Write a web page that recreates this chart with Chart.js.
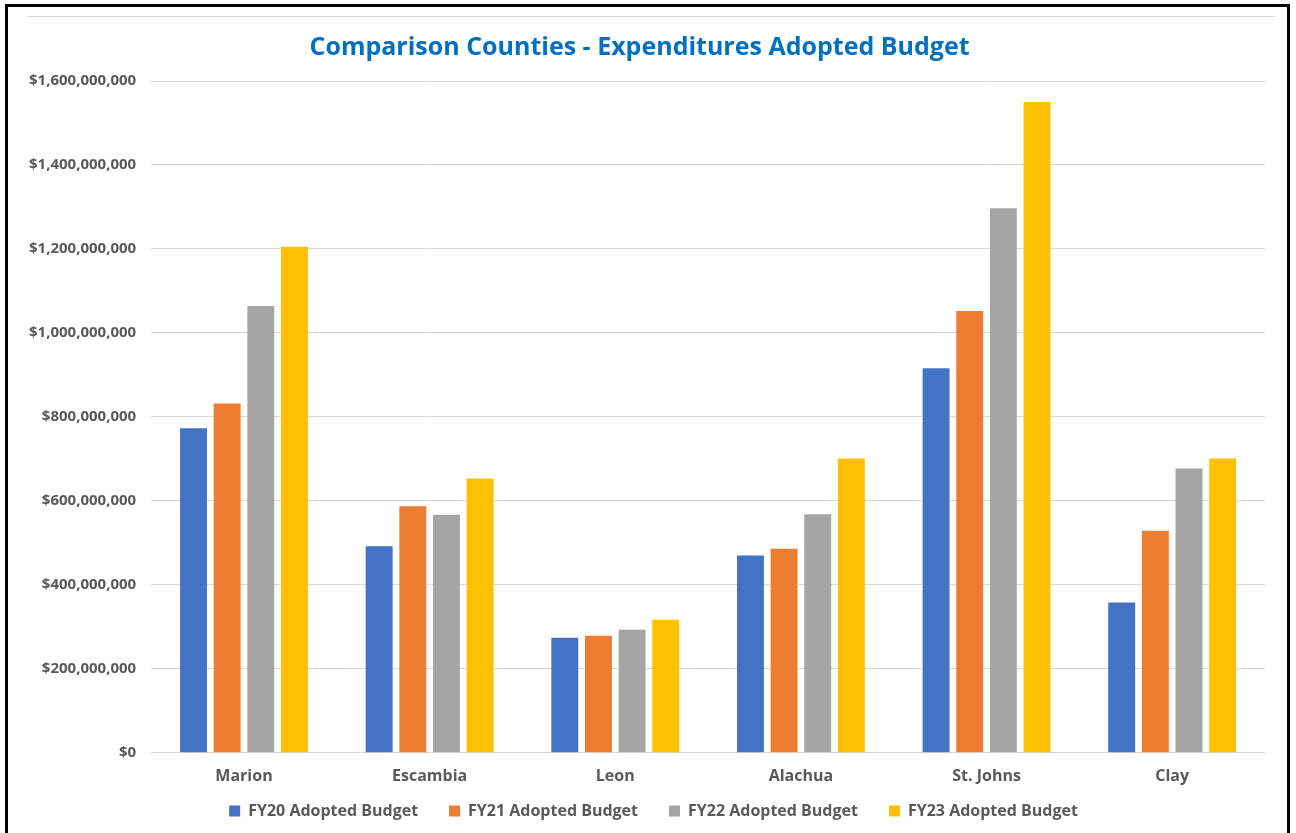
<!DOCTYPE html>
<html>
<head>
<meta charset="utf-8">
<script src="https://cdn.jsdelivr.net/npm/chart.js@4"></script>
<style>
  html, body { margin: 0; padding: 0; background: #fff; overflow: hidden; }
  #frame {
    position: absolute; left: 5px; top: 4px; width: 1285px; height: 840px;
    border: 3px solid #000; box-sizing: border-box;
  }
  #topline {
    position: absolute; left: 27px; top: 16px; width: 1248px; height: 0;
    border-top: 1px solid #d9d9d9;
  }
  #wrap { position: absolute; left: 0; top: 0; width: 1296px; height: 833px; }
</style>
</head>
<body>
<div id="frame"></div>
<div id="topline"></div>
<div id="wrap"><canvas id="barChart"></canvas></div>
<script>
// counties and adopted budget values (dollars)
const counties = ['Marion', 'Escambia', 'Leon', 'Alachua', 'St. Johns', 'Clay'];
const fy20 = [773000000, 492000000, 274000000, 470000000, 916000000, 358000000];
const fy21 = [832000000, 587000000, 279000000, 486000000, 1052000000, 529000000];
const fy22 = [1064000000, 567000000, 293000000, 568000000, 1297000000, 677000000];
const fy23 = [1205000000, 653000000, 317000000, 701000000, 1550000000, 701000000];
const yTicks = [0, 200000000, 400000000, 600000000, 800000000, 1000000000, 1200000000, 1400000000, 1600000000];

const textGray = '#595959';
const font = "'Open Sans', sans-serif";

// legend sits closer to the axis than its own padding would allow
const LEGEND_HEIGHT = 33;
const LEGEND_LIFT = 28;
const LEGEND_SHIFT_X = 14;
const legendShift = {
  id: 'legendShift',
  beforeInit(chart) {
    const legend = chart.legend;
    const fit = legend.fit;
    legend.fit = function () {
      fit.call(this);
      this.height = LEGEND_HEIGHT;
    };
  },
  afterLayout(chart) {
    const lg = chart.legend;
    lg.top -= LEGEND_LIFT;
    lg.bottom = chart.height + 40; // keep the clip box around the items
    lg.left += LEGEND_SHIFT_X;
    lg.right += LEGEND_SHIFT_X;
  }
};

let barCtx = document.getElementById('barChart');
let barConfig = {
  type: 'bar',
  data: {
    labels: counties,
    datasets: [{
      label: 'FY20 Adopted Budget',
      data: fy20,
      backgroundColor: '#4472C4',
    }, {
      label: 'FY21 Adopted Budget',
      data: fy21,
      backgroundColor: '#ED7D31',
    }, {
      label: 'FY22 Adopted Budget',
      data: fy22,
      backgroundColor: '#A5A5A5',
    }, {
      label: 'FY23 Adopted Budget',
      data: fy23,
      backgroundColor: '#FFC000',
    }],
  },
  options: {
    responsive: true,
    maintainAspectRatio: false,
    animation: false,
    categoryPercentage: 0.725,
    barPercentage: 0.8,
    layout: {
      padding: { left: 14, right: 31, top: 33, bottom: 0 }
    },
    plugins: {
      title: {
        display: true,
        text: 'Comparison Counties - Expenditures Adopted Budget',
        color: '#0070C0',
        font: { family: font, size: 25, weight: 'bold' },
        padding: { top: 0, bottom: 18 }
      },
      legend: {
        position: 'bottom',
        labels: {
          color: textGray,
          font: { family: font, size: 16, weight: 'bold' },
          boxWidth: 11,
          boxHeight: 11,
          padding: 31,
        }
      },
      tooltip: { enabled: false }
    },
    scales: {
      x: {
        grid: { display: false, drawTicks: false },
        border: { display: false },
        ticks: {
          color: textGray,
          font: { family: font, size: 16, weight: 'bold' },
          padding: 14,
        }
      },
      y: {
        min: 0,
        max: 1600000000,
        afterBuildTicks: axis => { axis.ticks = yTicks.map(v => ({ value: v })); },
        grid: { color: '#d9d9d9', lineWidth: 1, drawTicks: false },
        border: { display: false },
        ticks: {
          color: textGray,
          font: { family: font, size: 15, weight: 'bold' },
          padding: 15,
          callback: v => '$' + Number(v).toLocaleString('en-US'),
        }
      },
    },
  },
  plugins: [legendShift],
};
let barChart = new Chart(barCtx, barConfig);
</script>
</body>
</html>
